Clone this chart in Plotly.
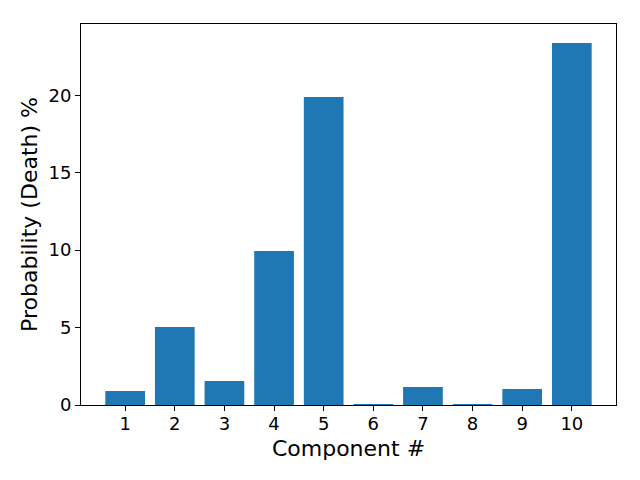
import plotly.graph_objects as go

components = [1, 2, 3, 4, 5, 6, 7, 8, 9, 10]
probabilities = [0.9, 5.03, 1.55, 9.94, 19.88, 0.06, 1.16, 0.06, 1.03, 23.37]
y_ticks = [0, 5, 10, 15, 20]

fig = go.Figure(go.Bar(x=components, y=probabilities, width=0.8,
                       marker=dict(color="#1f77b4", line=dict(width=0))))

font = "DejaVu Sans"
fig.update_layout(
    width=632, height=472,
    margin=dict(l=73, r=24, t=16, b=75),
    paper_bgcolor="white", plot_bgcolor="white",
    showlegend=False,
    font=dict(family=font, color="black"),
)
fig.update_xaxes(
    range=[0.11, 10.89], tickvals=components, ticktext=[str(c) for c in components],
    showline=True, mirror=True, linecolor="black", linewidth=1,
    ticks="outside", ticklen=5, tickcolor="black", showgrid=False, zeroline=False,
    ticklabelstandoff=-3,
    tickfont=dict(size=18), title=dict(text="Component #", font=dict(size=22), standoff=8),
)
fig.update_yaxes(
    range=[0, 24.6], tickvals=y_ticks,
    showline=True, mirror=True, linecolor="black", linewidth=1,
    ticks="outside", ticklen=5, tickcolor="black", showgrid=False, zeroline=False,
    tickfont=dict(size=18), title=dict(text="Probability (Death) %", font=dict(size=22), standoff=4),
)
fig.write_html("out.html")
